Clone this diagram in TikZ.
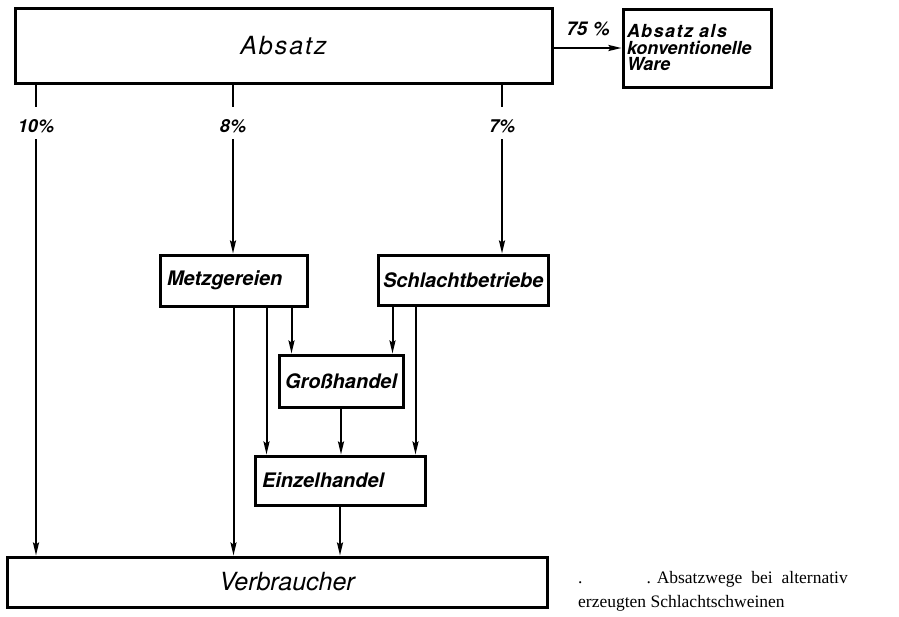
\documentclass[tikz,border=0pt]{standalone}
\usepackage{fontspec}
\setmainfont{Liberation Serif}
\newfontfamily\diafont{TeX Gyre Heros}
\usetikzlibrary{arrows.meta}

\begin{document}
\begin{tikzpicture}[x=1pt,y=-1pt,
    kasten/.style={draw,line width=3pt,inner xsep=7pt,inner ysep=0pt,align=left,
      font=\diafont\bfseries\itshape\fontsize{20}{22}\selectfont},
    breitkasten/.style={draw,line width=3pt,inner sep=0pt,
      font=\diafont\itshape\fontsize{25}{28}\selectfont},
    prozent/.style={inner sep=0pt,minimum height=32pt,text height=19pt,text depth=0pt,
      font=\diafont\bfseries\itshape\fontsize{18}{20}\selectfont},
    linie/.style={line width=2pt},
    pfeil/.style={linie,-{Stealth[length=13pt,width=6pt,inset=2pt]}}]

    \useasboundingbox (0,0) rectangle (899,616);

    %kaesten oben
    \node[breitkasten,minimum width=537pt,minimum height=75pt] (absatz) at (283.5,45.5)
      {\addfontfeature{LetterSpace=8}Absatz};
    \node[kasten,inner xsep=4pt,text width=140pt,minimum height=78pt,
      font=\diafont\bfseries\itshape\fontsize{18}{16.5}\selectfont] (ware) at (697,48)
      {{\addfontfeature{LetterSpace=8}Absatz als}\\konventionelle\\Ware};

    %kaesten mitte
    \node[kasten,text width=133pt,minimum height=51pt] (metz) at (233.5,280.5) {Metzgereien};
    \node[kasten,inner xsep=5pt,text width=160pt,minimum height=50pt] (schl) at (463,280) {Schlachtbetriebe};
    \node[kasten,inner xsep=6pt,text width=112pt,minimum height=52pt] (gross) at (341,381) {Großhandel};
    \node[kasten,text width=156pt,minimum height=49pt] (einz) at (340,480.5) {Einzelhandel};

    %kasten unten
    \node[breitkasten,minimum width=540pt,minimum height=50pt] (verb) at (277,582) {\hspace{20pt}Verbraucher};

    %prozente
    \node[prozent] (p10) at (36,123) {10\%};
    \node[prozent] (p8) at (233,123) {8\%};
    \node[prozent] (p7) at (502,123) {7\%};
    \node[inner sep=0pt,font=\diafont\bfseries\itshape\fontsize{19}{20}\selectfont] (l75) at (588,29) {75 \%};

    %pfeile von absatz
    \draw[linie] (absatz.south -| p10) -- (p10.north);
    \draw[pfeil] (p10.south) -- (p10.south |- verb.north);
    \draw[linie] (absatz.south -| p8) -- (p8.north);
    \draw[pfeil] (p8.south) -- (p8.south |- metz.north);
    \draw[linie] (absatz.south -| p7) -- (p7.north);
    \draw[pfeil] (p7.south) -- (p7.south |- schl.north);
    \draw[pfeil] (absatz.east |- ware.west) -- (ware.west);

    %pfeile mitte
    \path ([xshift=13pt]einz.north west) coordinate (e1)
          ([xshift=-11pt]einz.north east) coordinate (e2)
          ([xshift=14pt]gross.north west) coordinate (g1)
          ([xshift=-12pt]gross.north east) coordinate (g2);
    \draw[pfeil] (metz.south) -- (metz.south |- verb.north);
    \draw[pfeil] (metz.south -| e1) -- (e1);
    \draw[pfeil] (metz.south -| g1) -- (g1);
    \draw[pfeil] (schl.south -| g2) -- (g2);
    \draw[pfeil] (schl.south -| e2) -- (e2);
    \draw[pfeil] (gross.south) -- (gross.south |- einz.north);
    \draw[pfeil] (einz.south) -- (einz.south |- verb.north);

    %unterschrift
    \node[anchor=north west,align=left,inner sep=0pt,font=\fontsize{17.5}{24}\selectfont] (titel) at (578,571)
      {.\hspace{64pt}. Absatzwege\hspace{9pt}bei\hspace{9pt}alternativ\\erzeugten Schlachtschweinen};
\end{tikzpicture}
\end{document}
